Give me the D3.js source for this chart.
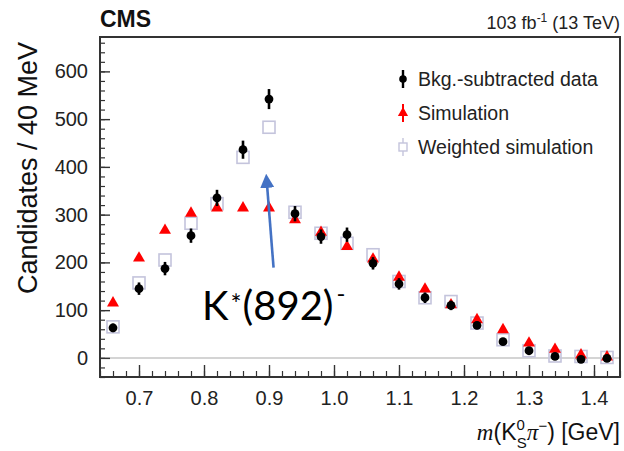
<!DOCTYPE html>
<html>
<head>
<meta charset="utf-8">
<script src="https://cdn.jsdelivr.net/npm/d3@7"></script>
<style>
  body { margin: 0; background: #fff; }
  text { font-family: "Liberation Sans", Arial, sans-serif; }
</style>
</head>
<body>
<div id="chart"></div>
<script>
// bin centres (GeV), 40 MeV bins
var masses = [0.66, 0.70, 0.74, 0.78, 0.82, 0.86, 0.90, 0.94, 0.98, 1.02,
              1.06, 1.10, 1.14, 1.18, 1.22, 1.26, 1.30, 1.34, 1.38, 1.42];
var dataVals = [63, 145, 187, 256, 335, 436, 542, 302, 254, 258,
                198, 155, 126, 110, 68, 34, 15, 3, -3, -1];
var dataErrs = [9, 13, 14, 15, 17, 19, 21, 16, 15, 15,
                13, 12, 11, 10, 8, 6, 5, 4, 3, 3];
var simVals = [115, 209, 267, 303, 314, 314, 314, 289, 263, 233,
               207, 169, 144, 111, 80, 59, 31, 18, 6, 2];
var wsimVals = [65, 157, 205, 282, 323, 420, 483, 305, 261, 240,
                216, 160, 126, 118, 73, 38, 15, 4, 3, 1];
var xTicks = [0.7, 0.8, 0.9, 1.0, 1.1, 1.2, 1.3, 1.4];
var yTicks = [0, 100, 200, 300, 400, 500, 600];
var legendLabels = ["Bkg.-subtracted data", "Simulation", "Weighted simulation"];

var W = 624, H = 451;
var pL = 100, pR = 620, pT = 37, pB = 377;

var svg = d3.select("#chart").append("svg")
  .attr("width", W)
  .attr("height", H);

var x = d3.scaleLinear().domain([0.64, 1.44]).range([pL, pR]);
var y = d3.scaleLinear().domain([-40, 672]).range([pB, pT]);

// zero line
svg.append("line")
  .attr("x1", pL).attr("x2", pR)
  .attr("y1", y(0)).attr("y2", y(0))
  .attr("stroke", "#d4d4d4").attr("stroke-width", 2);

// minor ticks
var yMinor = d3.range(-40, 670, 20);
var xMinor = d3.range(0.64, 1.445, 0.02);
svg.append("g")
  .attr("transform", "translate(" + pL + ",0)")
  .call(d3.axisLeft(y).tickValues(yMinor).tickFormat("").tickSize(-5))
  .call(function(g){ g.select(".domain").remove(); })
  .selectAll("line").attr("stroke", "#333").attr("stroke-width", 1.2);
svg.append("g")
  .attr("transform", "translate(0," + pB + ")")
  .call(d3.axisBottom(x).tickValues(xMinor).tickFormat("").tickSize(-6))
  .call(function(g){ g.select(".domain").remove(); })
  .selectAll("line").attr("stroke", "#333").attr("stroke-width", 1.2);

// major ticks
var yAxis = svg.append("g")
  .attr("transform", "translate(" + pL + ",0)")
  .call(d3.axisLeft(y).tickValues(yTicks).tickSize(-10).tickPadding(12));
yAxis.select(".domain").remove();
yAxis.selectAll("line").attr("stroke", "#333").attr("stroke-width", 1.4);
yAxis.selectAll("text").attr("font-size", 20).attr("fill", "#222")
  .style("font-family", "Liberation Sans, Arial, sans-serif");

var xAxis = svg.append("g")
  .attr("transform", "translate(0," + pB + ")")
  .call(d3.axisBottom(x).tickValues(xTicks).tickFormat(d3.format(".1f")).tickSize(-12).tickPadding(14));
xAxis.select(".domain").remove();
xAxis.selectAll("line").attr("stroke", "#333").attr("stroke-width", 1.4);
xAxis.selectAll("text").attr("font-size", 20).attr("fill", "#222")
  .style("font-family", "Liberation Sans, Arial, sans-serif");

// frame
svg.append("rect")
  .attr("x", pL).attr("y", pT)
  .attr("width", pR - pL).attr("height", pB - pT)
  .attr("fill", "none").attr("stroke", "#333").attr("stroke-width", 2);

var pts = masses.map(function(m, i){
  return {m: m, d: dataVals[i], e: dataErrs[i], s: simVals[i], w: wsimVals[i]};
});

var lav = "#c4c4dc";
var tri = d3.symbol().type(d3.symbolTriangle).size(62);

// weighted simulation: open squares
svg.append("g").selectAll("rect")
  .data(pts).enter().append("rect")
  .attr("x", function(d){ return x(d.m) - 6; })
  .attr("y", function(d){ return y(d.w) - 6; })
  .attr("width", 12).attr("height", 12)
  .attr("fill", "none").attr("stroke", lav).attr("stroke-width", 1.6);

// simulation: red triangles
svg.append("g").selectAll("path")
  .data(pts).enter().append("path")
  .attr("d", tri)
  .attr("transform", function(d){ return "translate(" + x(d.m) + "," + y(d.s) + ")"; })
  .attr("fill", "#ff0000");

// data with error bars
var dg = svg.append("g");
dg.selectAll("line")
  .data(pts).enter().append("line")
  .attr("x1", function(d){ return x(d.m); })
  .attr("x2", function(d){ return x(d.m); })
  .attr("y1", function(d){ return y(d.d - d.e); })
  .attr("y2", function(d){ return y(d.d + d.e); })
  .attr("stroke", "#000").attr("stroke-width", 2.6);
dg.selectAll("circle")
  .data(pts).enter().append("circle")
  .attr("cx", function(d){ return x(d.m); })
  .attr("cy", function(d){ return y(d.d); })
  .attr("r", 4.4)
  .attr("fill", "#000");

// legend
var lx = 403, ly = [79, 113, 147];
var lg = svg.append("g");
lg.append("line").attr("x1", lx).attr("x2", lx).attr("y1", ly[0] - 9).attr("y2", ly[0] + 9)
  .attr("stroke", "#000").attr("stroke-width", 2.4);
lg.append("circle").attr("cx", lx).attr("cy", ly[0]).attr("r", 3.8).attr("fill", "#000");
lg.append("line").attr("x1", lx).attr("x2", lx).attr("y1", ly[1] - 9).attr("y2", ly[1] + 9)
  .attr("stroke", "#ff0000").attr("stroke-width", 2);
lg.append("path").attr("d", d3.symbol().type(d3.symbolTriangle).size(45))
  .attr("transform", "translate(" + lx + "," + ly[1] + ")").attr("fill", "#ff0000");
lg.append("line").attr("x1", lx).attr("x2", lx).attr("y1", ly[2] - 9).attr("y2", ly[2] + 9)
  .attr("stroke", lav).attr("stroke-width", 1.4);
lg.append("rect").attr("x", lx - 4).attr("y", ly[2] - 4).attr("width", 8).attr("height", 8)
  .attr("fill", "#fff").attr("stroke", lav).attr("stroke-width", 1.4);
lg.selectAll("text")
  .data(legendLabels).enter().append("text")
  .attr("x", 418)
  .attr("y", function(d, i){ return ly[i] + 7; })
  .attr("font-size", 19.5).attr("fill", "#222")
  .text(function(d){ return d; });

// header
svg.append("text").attr("x", 100).attr("y", 27)
  .attr("font-size", 23).attr("font-weight", "bold").attr("fill", "#111")
  .text("CMS");
var lumi = svg.append("text").attr("x", 620).attr("y", 29)
  .attr("text-anchor", "end").attr("font-size", 18).attr("fill", "#222");
lumi.append("tspan").text("103 fb");
lumi.append("tspan").attr("dy", -7).attr("font-size", 12).text("-1");
lumi.append("tspan").attr("dy", 7).text(" (13 TeV)");

// y title
svg.append("text")
  .attr("transform", "translate(37,168) rotate(-90)")
  .attr("text-anchor", "middle")
  .attr("font-size", 27).attr("fill", "#111")
  .text("Candidates / 40 MeV");

// x title
var xt = svg.append("text").attr("x", 620).attr("y", 440)
  .attr("text-anchor", "end").attr("font-size", 23).attr("fill", "#111");
xt.append("tspan").attr("font-family", "Liberation Serif, serif").attr("font-style", "italic").text("m");
xt.append("tspan").text("(K");
xt.append("tspan").attr("font-size", 15).attr("dy", -10).text("0");
xt.append("tspan").attr("font-size", 15).attr("dx", -8).attr("dy", 18).text("S");
xt.append("tspan").attr("dy", -8).attr("font-family", "Liberation Serif, serif").attr("font-style", "italic").text("\u03c0");
xt.append("tspan").attr("font-size", 15).attr("dy", -9).text("\u2212");
xt.append("tspan").attr("dy", 9).text(") [GeV]");

// annotation arrow
var arrowFrom = [0.907, 189], arrowTo = [0.897, 385];
svg.append("defs").append("marker")
  .attr("id", "head").attr("viewBox", "0 0 10 10")
  .attr("refX", 2).attr("refY", 5)
  .attr("markerWidth", 5.5).attr("markerHeight", 5.5)
  .attr("orient", "auto")
  .append("path").attr("d", "M0,0 L10,5 L0,10 z").attr("fill", "#4472c4");
svg.append("line")
  .attr("x1", x(arrowFrom[0])).attr("y1", y(arrowFrom[1]))
  .attr("x2", x(arrowTo[0])).attr("y2", y(arrowTo[1]) + 11)
  .attr("stroke", "#4472c4").attr("stroke-width", 2.6)
  .attr("marker-end", "url(#head)");

var lab = svg.append("text").attr("x", 202).attr("y", 320)
  .attr("font-size", 40).attr("fill", "#000")
  .style("font-family", "Lato, 'Noto Sans', sans-serif").style("font-weight", 400);
lab.append("tspan").text("K");
lab.append("tspan").attr("font-size", 26).attr("dx", 2).attr("dy", -6).text("*");
lab.append("tspan").attr("dx", 1).attr("dy", 6).text("(892)");
lab.append("tspan").attr("font-size", 24).attr("dx", 3).attr("dy", -18).text("-");
</script>
</body>
</html>
